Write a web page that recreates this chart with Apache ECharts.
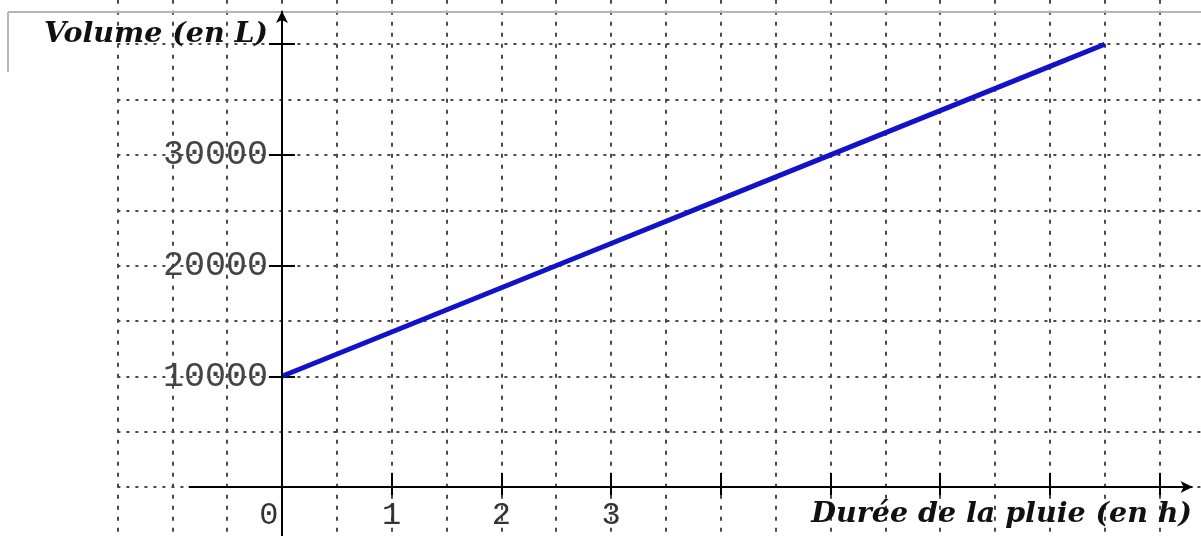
<!DOCTYPE html>
<html lang="fr">
<head>
    <meta charset="UTF-8">
    <title>Volume d'eau en fonction de la durée de la pluie</title>
    <script src="https://cdn.jsdelivr.net/npm/echarts@6/dist/echarts.min.js"></script>
    <style>
        html, body { margin: 0; padding: 0; background: #fff; }
        #chartBox { width: 1201px; height: 536px; }
    </style>
</head>
<body>
    <div id="chartBox"></div>
    <script>
        // durée de la pluie (h) et volume (L)
        var hours = [0, 1, 2, 3, 4, 5, 6, 7, 7.5];
        var volumes = [10000, 14000, 18000, 22000, 26000, 30000, 34000, 38000, 40000];

        // graduations
        var xTicks = [1, 2, 3, 4, 5, 6, 7, 8];
        var xLabels = [0, 1, 2, 3];
        var yTicks = [10000, 20000, 30000, 40000];
        var yLabels = [10000, 20000, 30000];

        // étendue des axes dessinés (flèches)
        var xArrow = [-0.85, 8.3];
        var yArrow = [-4500, 43000];

        var W = 1201, H = 536;
        var grid = { left: 117.4, right: -13.5, top: -11.15, bottom: -6.35 };
        var xMin = -1.5, xMax = 8.5, yMin = -5000, yMax = 45000;

        // position en pixels des droites x = 0 et y = 0 (pour les étiquettes)
        var x0 = grid.left + (0 - xMin) / (xMax - xMin) * (W - grid.left - grid.right);
        var y0 = grid.top + (yMax - 0) / (yMax - yMin) * (H - grid.top - grid.bottom);

        var chart = echarts.init(document.getElementById('chartBox'));

        var xRange = { type: 'value', min: xMin, max: xMax, interval: 0.5, position: 'bottom' };
        var yRange = { type: 'value', min: yMin, max: yMax, interval: 5000, position: 'left' };
        var tickLine = { color: '#000', width: 2 };

        function makeAxis(range, idx, extra) {
            return echarts.util.merge(echarts.util.merge({}, range), echarts.util.merge({
                axisLine: { show: false, onZero: true, onZeroAxisIndex: idx },
                splitLine: { show: false },
                axisTick: { show: false },
                axisLabel: { show: false }
            }, extra, true), true);
        }

        var titleFont = { fontFamily: 'DejaVu Serif', fontStyle: 'italic', fontWeight: 'bold', fontSize: 28.5, color: '#111' };

        var option = {
            animation: false,
            backgroundColor: '#fff',
            title: [
                { text: 'Volume (en L)', left: 39, top: 15, textStyle: titleFont },
                { text: 'Durée de la pluie (en h)', right: 4, top: 495, textStyle: titleFont }
            ],
            grid: {
                left: grid.left,
                right: grid.right,
                top: grid.top,
                bottom: grid.bottom,
                containLabel: false,
                outerBoundsMode: 'none'
            },
            // axe 0 : quadrillage, 1 : graduations extérieures, 2 : graduations intérieures, 3 : étiquettes
            xAxis: [
                makeAxis(xRange, 0, {
                    splitLine: { show: true, lineStyle: { color: '#4a4a4a', width: 2, type: [4, 7] } }
                }),
                makeAxis(xRange, 1, {
                    axisTick: { show: true, customValues: xTicks, length: 8, lineStyle: tickLine }
                }),
                makeAxis(xRange, 2, {
                    axisTick: { show: true, inside: true, customValues: xTicks, length: 14, lineStyle: tickLine }
                }),
                makeAxis(xRange, 3, {
                    axisLine: { onZero: false },
                    offset: y0 - (H - grid.bottom),
                    axisLabel: {
                        show: true, customValues: xLabels, margin: 13,
                        fontFamily: 'Liberation Mono', fontSize: 32, color: '#333',
                        formatter: function (v) { return v === 0 ? '{z|0}' : String(v); },
                        rich: { z: { fontFamily: 'Liberation Mono', fontSize: 32, color: '#333', padding: [0, 26, 0, 0] } }
                    }
                })
            ],
            yAxis: [
                makeAxis(yRange, 0, {
                    splitLine: { show: true, lineStyle: { color: '#4a4a4a', width: 2, type: [3, 6] } }
                }),
                makeAxis(yRange, 1, {
                    axisTick: { show: true, customValues: yTicks, length: 13, lineStyle: tickLine }
                }),
                makeAxis(yRange, 2, {
                    axisTick: { show: true, inside: true, customValues: yTicks, length: 13, lineStyle: tickLine }
                }),
                makeAxis(yRange, 3, {
                    axisLine: { onZero: false },
                    offset: grid.left - x0,
                    axisLabel: {
                        show: true, customValues: yLabels, margin: 14,
                        fontFamily: 'Liberation Mono', fontSize: 35, color: '#444',
                        formatter: function (v) { return String(v); }
                    }
                })
            ],
            graphic: [
                { type: 'line', shape: { x1: 8, y1: 12, x2: W, y2: 12 }, style: { stroke: '#b4b4b4', lineWidth: 2 }, z: 1 },
                { type: 'line', shape: { x1: 8, y1: 12, x2: 8, y2: 72 }, style: { stroke: '#b4b4b4', lineWidth: 2 }, z: 1 }
            ],
            series: [{
                type: 'line',
                data: hours.map(function (h, i) { return [h, volumes[i]]; }),
                showSymbol: false,
                lineStyle: { color: '#1212c8', width: 5 },
                z: 3,
                markLine: {
                    silent: true,
                    symbol: ['none', 'arrow'],
                    symbolSize: [9, 12],
                    label: { show: false },
                    lineStyle: { color: '#000', width: 2, type: 'solid' },
                    data: [
                        [{ coord: [xArrow[0], 0] }, { coord: [xArrow[1], 0] }],
                        [{ coord: [0, yArrow[0]] }, { coord: [0, yArrow[1]] }]
                    ]
                }
            }]
        };

        chart.setOption(option);
    </script>
</body>
</html>
